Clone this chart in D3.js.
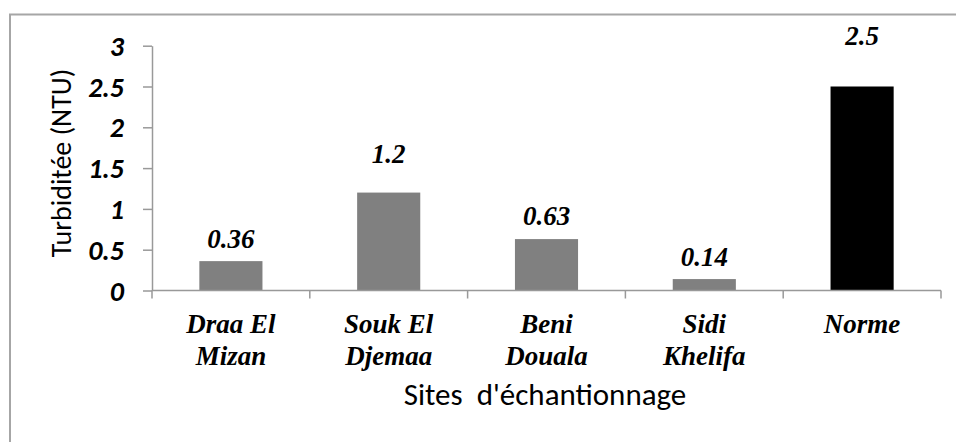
<!DOCTYPE html>
<html>
<head>
<meta charset="utf-8">
<script src="https://cdn.jsdelivr.net/npm/d3@7/dist/d3.min.js"></script>
<style>
  html, body { margin: 0; padding: 0; background: #fff; }
  svg { display: block; }
  .serif { font-family: "Liberation Serif", "Times New Roman", serif; font-weight: bold; font-style: italic; }
  .sans { font-family: Carlito, Lato, sans-serif; }
  .pre { white-space: pre; }
</style>
</head>
<body>
<svg id="chart" width="956" height="442"></svg>
<script>
// ---- data ----
const sites = [["Draa El", "Mizan"], ["Souk El", "Djemaa"], ["Beni", "Douala"], ["Sidi", "Khelifa"], ["Norme"]];
const turbidity = [0.36, 1.2, 0.63, 0.14, 2.5];
const valueLabels = ["0.36", "1.2", "0.63", "0.14", "2.5"];
const yTicks = [0, 0.5, 1, 1.5, 2, 2.5, 3];
const yTickLabels = ["0", "0.5", "1", "1.5", "2", "2.5", "3"];
const yTitle = "Turbiditée (NTU)";
const xTitle = "Sites  d'échantionnage";

// ---- drawing ----
const svg = d3.select("#chart");
const W = 956, H = 442;
const x0 = 152, x1 = 941, yTop = 45.7, yBot = 290.5;

const keys = sites.map((d, i) => i);
const x = d3.scaleBand().domain(keys).range([x0, x1]).paddingInner(0.6).paddingOuter(0.3);
const y = d3.scaleLinear().domain([0, 3]).range([yBot, yTop]);

// outer frame (left and top visible, cropped on right/bottom)
svg.append("path")
  .attr("d", `M10,${H + 5} L10,14.5 L${W + 5},14.5`)
  .attr("fill", "none").attr("stroke", "#a6a6a6").attr("stroke-width", 2);

const axisColor = "#999";

// bars
const barColors = ["#808080", "#808080", "#808080", "#808080", "#000000"];
svg.append("g").selectAll("rect").data(turbidity).join("rect")
  .attr("x", (d, i) => x(i))
  .attr("width", x.bandwidth())
  .attr("y", d => y(d))
  .attr("height", d => y(0) - y(d))
  .attr("fill", (d, i) => barColors[i]);

// y axis
const yAxis = d3.axisLeft(y).tickValues(yTicks)
  .tickFormat((d, i) => yTickLabels[i]).tickSize(9).tickSizeOuter(0).tickPadding(19);
const gy = svg.append("g").attr("transform", `translate(${x0},0)`).call(yAxis);
gy.attr("font-family", null).attr("font-size", null);
gy.select(".domain").attr("stroke", axisColor).attr("stroke-width", 1.5);
gy.selectAll(".tick line").attr("stroke", axisColor).attr("stroke-width", 1.5);
gy.selectAll(".tick text")
  .attr("class", "sans")
  .style("font-weight", "bold").style("font-style", "italic")
  .style("font-size", "28px").attr("fill", "#000").attr("dy", "0.34em");

// x axis baseline with category boundary ticks
const xEdges = keys.map(i => x(i) - x.step() * x.paddingInner() / 2).concat([x1]);
xEdges[0] = x0;
svg.append("line").attr("x1", x0).attr("x2", x1).attr("y1", yBot).attr("y2", yBot)
  .attr("stroke", axisColor).attr("stroke-width", 1.5);
svg.append("g").selectAll("line").data(xEdges).join("line")
  .attr("x1", d => d).attr("x2", d => d)
  .attr("y1", yBot).attr("y2", yBot + 8)
  .attr("stroke", axisColor).attr("stroke-width", 1.5);

// category labels
const catG = svg.append("g").attr("class", "serif")
  .style("font-size", "27px").attr("fill", "#000").attr("text-anchor", "middle");
sites.forEach((lines, i) => {
  const t = catG.append("text")
    .attr("x", x(i) + x.bandwidth() / 2)
    .attr("y", yBot + 42);
  lines.forEach((ln, j) => {
    t.append("tspan").attr("x", x(i) + x.bandwidth() / 2)
      .attr("dy", j === 0 ? 0 : 32).text(ln);
  });
});

// value labels (lift above bar top, px)
const labelLift = [13, 30, 14, 13, 42];
svg.append("g").attr("class", "serif")
  .style("font-size", "27px").attr("fill", "#000").attr("text-anchor", "middle")
  .selectAll("text").data(turbidity).join("text")
  .attr("x", (d, i) => x(i) + x.bandwidth() / 2)
  .attr("y", (d, i) => y(d) - labelLift[i])
  .text((d, i) => valueLabels[i]);

// axis titles
svg.append("text").attr("class", "sans")
  .attr("transform", `translate(71,163) rotate(-90)`)
  .attr("text-anchor", "middle")
  .style("font-size", "28px").attr("fill", "#000")
  .text(yTitle);

svg.append("text").attr("class", "sans pre")
  .attr("x", 545).attr("y", 405)
  .attr("text-anchor", "middle")
  .style("font-size", "31px").attr("fill", "#000")
  .text(xTitle);
</script>
</body>
</html>
